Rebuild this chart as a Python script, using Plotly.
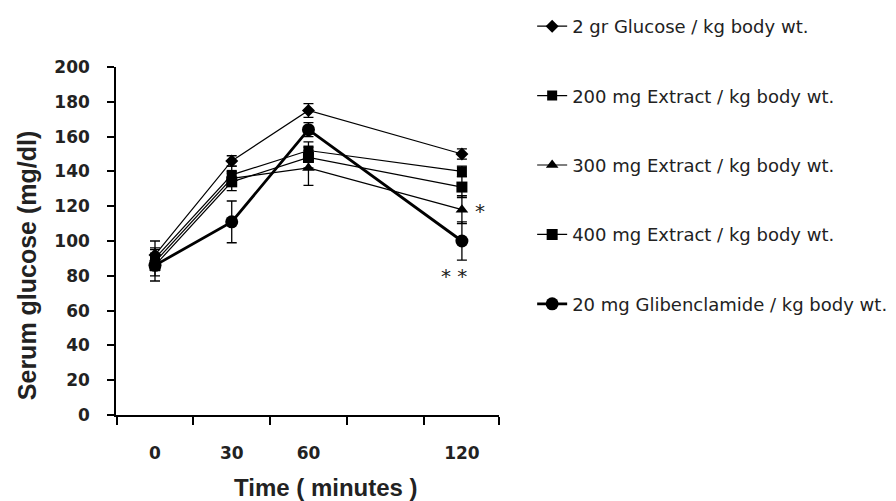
import plotly.graph_objects as go

time_min = [0, 30, 60, 120]
series_names = [
    "2 gr Glucose / kg body wt.",
    "200 mg Extract / kg body wt.",
    "300 mg Extract / kg body wt.",
    "400 mg Extract / kg body wt.",
    "20 mg Glibenclamide / kg body wt.",
]
glucose = [92, 146, 175, 150]
glucose_err = [8, 3, 4, 3]
extract200 = [90, 138, 152, 140]
extract200_err = [6, 5, 5, 3]
extract300 = [88, 136, 142, 118]
extract300_err = [5, 4, 10, 8]
extract400 = [86, 134, 148, 131]
extract400_err = [9, 5, 6, 6]
gliben = [86, 111, 164, 100]
gliben_err = [6, 12, 4, 11]

tick_labels = ["0", "30", "60", "120"]
tick_marks = [-15, 15, 45, 75, 105, 134.5]

symbols = ["diamond", "square", "triangle-up", "square", "circle"]
msizes = [10, 10, 11, 11, 13]
widths = [1.2, 1.2, 1.2, 1.2, 2.8]
values = [glucose, extract200, extract300, extract400, gliben]
errors = [glucose_err, extract200_err, extract300_err, extract400_err, gliben_err]

fig = go.Figure()
for i, name in enumerate(series_names):
    fig.add_trace(go.Scatter(
        x=time_min, y=values[i], name=name, mode="lines+markers",
        legendgroup=f"g{i}",
        line=dict(color="black", width=widths[i]),
        marker=dict(symbol=symbols[i], size=msizes[i], color="black"),
        error_y=dict(type="data", array=errors[i], visible=True,
                     color="black", thickness=1.3, width=5),
    ))

axis_font = dict(family="DejaVu Sans", size=17, color="#222", weight="bold")
fig.update_layout(
    width=896, height=501,
    margin=dict(l=108, r=405, t=59, b=94, autoexpand=False),
    paper_bgcolor="white", plot_bgcolor="white",
    showlegend=True,
    legend=dict(xref="container", yref="container", x=0.585, y=1.0,
                xanchor="left", yanchor="top", maxheight=490,
                font=dict(family="DejaVu Sans", size=18, color="#222"),
                tracegroupgap=43, bgcolor="rgba(0,0,0,0)"),
    xaxis=dict(range=[-15.25, 134.5], tickmode="array", tickvals=time_min,
               ticktext=tick_labels, ticks="", showline=True, linecolor="black",
               linewidth=1.5, showgrid=False, zeroline=False, automargin=False,
               tickfont=axis_font, ticklabelstandoff=22,
               minor=dict(tickmode="array", tickvals=tick_marks, ticks="outside",
                          ticklen=8, tickcolor="black", tickwidth=1.5, showgrid=False)),
    yaxis=dict(range=[0, 200], tickmode="array", tickvals=list(range(0, 201, 20)),
               ticks="outside", ticklen=7, tickcolor="black", tickwidth=1.5,
               showline=True, linecolor="black", linewidth=1.5, showgrid=False,
               zeroline=False, automargin=False, tickfont=axis_font, ticklabelstandoff=14),
)

fig.add_annotation(x=0.548, xref="paper", y=-0.207, yref="paper", yanchor="middle",
                   text="<b>Time ( minutes )</b>", showarrow=False,
                   font=dict(family="Liberation Sans", size=24, color="#222"))
fig.add_annotation(x=-0.232, xref="paper", y=0.428, yref="paper", textangle=-90,
                   xanchor="center", yanchor="middle",
                   text="<b>Serum glucose (mg/dl)</b>", showarrow=False,
                   font=dict(family="Liberation Sans", size=25, color="#222"))
fig.add_annotation(x=127, y=117, text="*", showarrow=False,
                   font=dict(family="DejaVu Sans", size=20, color="#222"))
fig.add_annotation(x=117, y=80, text="* *", showarrow=False,
                   font=dict(family="DejaVu Sans", size=20, color="#222"))

fig.write_html("out.html")
